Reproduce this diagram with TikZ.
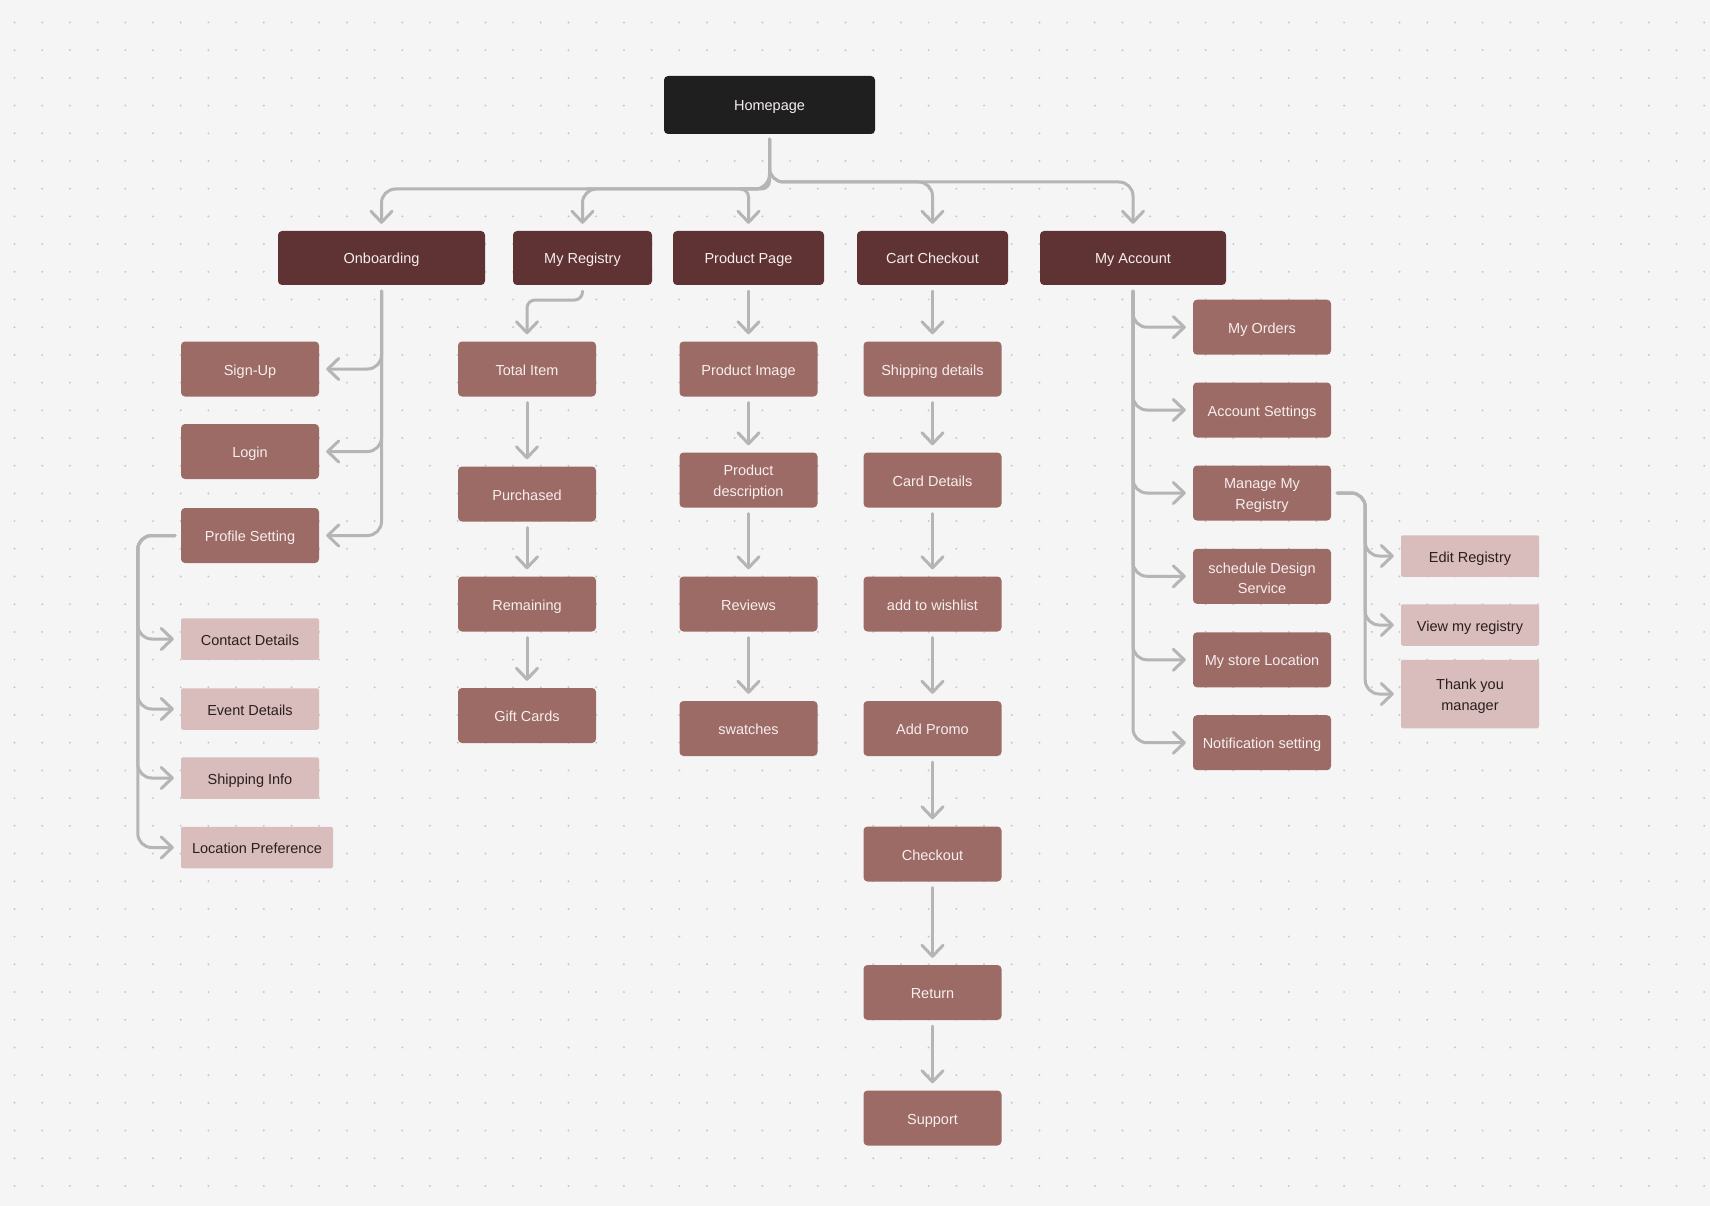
\documentclass[tikz,border=0pt]{standalone}
\usepackage{fontspec}
\setmainfont{Liberation Sans}
\usetikzlibrary{arrows.meta}
\definecolor{bg}{HTML}{F5F5F5}
\definecolor{dotc}{HTML}{C8C8C8}
\definecolor{homec}{HTML}{1F1F1F}
\definecolor{darkc}{HTML}{5F3333}
\definecolor{midc}{HTML}{9C6B66}
\definecolor{lightc}{HTML}{D9BDBD}
\definecolor{linec}{HTML}{B5B5B5}
\definecolor{ltext}{HTML}{2A1E1E}
\definecolor{wtext}{HTML}{F7EEEE}
\begin{document}
\begin{tikzpicture}[x=1pt,y=-1pt,
 box/.style={rectangle, rounded corners=4pt, inner sep=2pt, font=\fontsize{14.5}{20.5}\selectfont, align=center, text=wtext,
   text height=15pt, text depth=3pt},
 twoline/.style={text height=35.5pt, text depth={}},
 homebox/.style={box, fill=homec, minimum width=211pt, minimum height=58pt},
 topbox/.style={box, fill=darkc, minimum height=54pt},
 midbox/.style={box, fill=midc, minimum width=138pt, minimum height=55pt},
 lightbox/.style={box, fill=lightc, text=ltext, rounded corners=2pt, minimum width=138pt, minimum height=41.5pt},
 conn/.style={draw=linec, line width=3pt, line cap=round, rounded corners=14pt, shorten <=6pt, shorten >=7pt,
   -{Straight Barb[length=11pt,width=21pt,round]}},
]
\fill[bg] (0,0) rectangle (1710,1206);
\useasboundingbox (0,0) rectangle (1710,1206);
\foreach \i in {0,...,61} \foreach \j in {0,...,43}
  \fill[dotc] (14.5+27.7*\i, 22.5+27.7*\j) circle (1.1pt);

% nodes
\node[homebox] (home) at (769.5,105) {Homepage};
\node[topbox, minimum width=207pt] (onb) at (381.5,258) {Onboarding};
\node[topbox, minimum width=139pt] (reg) at (582.5,258) {My Registry};
\node[topbox, minimum width=151pt] (prod) at (748.5,258) {Product Page};
\node[topbox, minimum width=151pt] (cart) at (932.5,258) {Cart Checkout};
\node[topbox, minimum width=186pt] (acct) at (1133,258) {My Account};

\node[midbox] (signup) at (250,369) {Sign-Up};
\node[midbox] (login) at (250,451.5) {Login};
\node[midbox] (profile) at (250,535.5) {Profile Setting};
\node[lightbox] (contact) at (250,639) {Contact Details};
\node[lightbox] (event) at (250,709) {Event Details};
\node[lightbox] (shipinfo) at (250,778) {Shipping Info};
\node[lightbox, minimum width=152pt] (locpref) at (257,847.5) {Location Preference};

\node[midbox] (total) at (527,369) {Total Item};
\node[midbox] (purch) at (527,494) {Purchased};
\node[midbox] (remain) at (527,604) {Remaining};
\node[midbox] (gift) at (527,715.5) {Gift Cards};

\node[midbox] (pimg) at (748.5,369) {Product Image};
\node[midbox, twoline] (pdesc) at (748.5,480) {Product\\description};
\node[midbox] (reviews) at (748.5,604) {Reviews};
\node[midbox] (swatch) at (748.5,728.5) {swatches};

\node[midbox] (shipd) at (932.5,369) {Shipping details};
\node[midbox] (card) at (932.5,480) {Card Details};
\node[midbox] (wish) at (932.5,604) {add to wishlist};
\node[midbox] (promo) at (932.5,728.5) {Add Promo};
\node[midbox] (chk) at (932.5,854) {Checkout};
\node[midbox] (ret) at (932.5,992.5) {Return};
\node[midbox] (supp) at (932.5,1118) {Support};

\node[midbox] (orders) at (1262,327.2) {My Orders};
\node[midbox] (accset) at (1262,410) {Account Settings};
\node[midbox, twoline] (manage) at (1262,493) {Manage My\\Registry};
\node[midbox, twoline] (sched) at (1262,576.3) {schedule Design\\Service};
\node[midbox] (store) at (1262,659.8) {My store Location};
\node[midbox] (notif) at (1262,742.7) {Notification setting};

\node[lightbox] (edit) at (1470,556) {Edit Registry};
\node[lightbox] (view) at (1470,625) {View my registry};
\node[lightbox, twoline, minimum height=68.5pt] (thank) at (1470,694) {Thank you\\manager};

% top connectors
\draw[conn, shorten <=5pt] (home.south) |- (600,189) -| (onb.north);
\draw[conn, shorten <=5pt] (home.south) |- (600,189) -| (reg.north);
\draw[conn, shorten <=5pt, rounded corners=8pt] (home.south) |- (740,189) -| (prod.north);
\draw[conn, shorten <=5pt] (home.south) |- (900,182) -| (cart.north);
\draw[conn, shorten <=5pt] (home.south) |- (900,182) -| (acct.north);

% onboarding
\draw[conn] (onb.south) |- (signup.east);
\draw[conn] (onb.south) |- (login.east);
\draw[conn] (onb.south) |- (profile.east);
\draw[conn] (profile.west) -- ++(-43,0) |- (contact.west);
\draw[conn] (profile.west) -- ++(-43,0) |- (event.west);
\draw[conn] (profile.west) -- ++(-43,0) |- (shipinfo.west);
\draw[conn] (profile.west) -- ++(-43,0) |- (locpref.west);

% registry
\draw[conn, rounded corners=8pt] (reg.south) -- (reg.south |- 0,300) -| (total.north);
\draw[conn] (total.south) -- (purch.north);
\draw[conn] (purch.south) -- (remain.north);
\draw[conn] (remain.south) -- (gift.north);

% product
\draw[conn] (prod.south) -- (pimg.north);
\draw[conn] (pimg.south) -- (pdesc.north);
\draw[conn] (pdesc.south) -- (reviews.north);
\draw[conn] (reviews.south) -- (swatch.north);

% cart
\draw[conn] (cart.south) -- (shipd.north);
\draw[conn] (shipd.south) -- (card.north);
\draw[conn] (card.south) -- (wish.north);
\draw[conn] (wish.south) -- (promo.north);
\draw[conn] (promo.south) -- (chk.north);
\draw[conn] (chk.south) -- (ret.north);
\draw[conn] (ret.south) -- (supp.north);

% account
\draw[conn] (acct.south) |- (orders.west);
\draw[conn] (acct.south) |- (accset.west);
\draw[conn] (acct.south) |- (manage.west);
\draw[conn] (acct.south) |- (sched.west);
\draw[conn] (acct.south) |- (store.west);
\draw[conn] (acct.south) |- (notif.west);
\draw[conn] (manage.east) -- ++(34,0) |- (edit.west);
\draw[conn] (manage.east) -- ++(34,0) |- (view.west);
\draw[conn] (manage.east) -- ++(34,0) |- (thank.west);
\end{tikzpicture}
\end{document}
